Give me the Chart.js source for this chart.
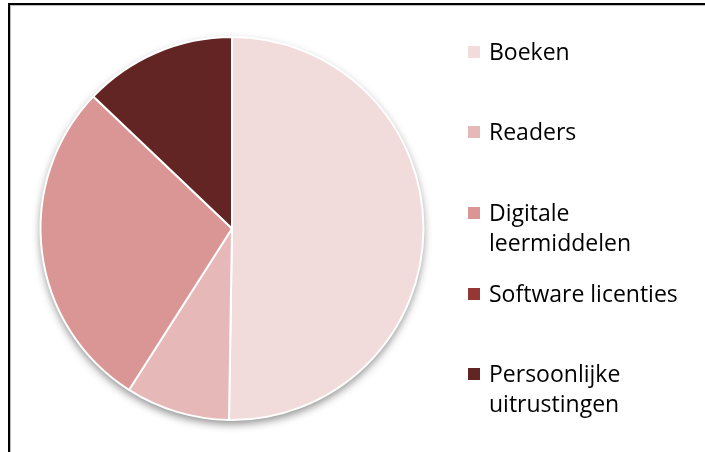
<!DOCTYPE html>
<html>
<head>
<meta charset="utf-8">
<script src="https://cdn.jsdelivr.net/npm/chart.js@4.4.1/dist/chart.umd.min.js"></script>
<style>
  html, body { margin: 0; padding: 0; background: #fff; }
  #wrap { position: relative; width: 705px; height: 452px; overflow: hidden; }
  #frame {
    position: absolute; left: 8px; top: 3px; width: 900px; height: 700px;
    border-top: 2px solid #000; border-left: 2px solid #000;
    box-shadow: 1px 1px 0 #bbb inset;
  }
  #chart { position: absolute; left: 0; top: 0; }
  .legend-item { position: absolute; left: 468px; font-family: "Open Sans", sans-serif; font-size: 23px; line-height: 30px; color: #000; font-variant-ligatures: none; }
  .legend-item .box { position: absolute; left: 0; width: 12px; height: 12px; }
  .legend-item .txt { position: absolute; left: 21px; white-space: nowrap; }
</style>
</head>
<body>
<div id="wrap">
  <div id="frame"></div>
  <canvas id="chart" width="705" height="452"></canvas>
  <div id="legend"></div>
</div>
<script>
// data (percent of the whole)
const categories = ["Boeken", "Readers", "Digitale leermiddelen", "Software licenties", "Persoonlijke uitrustingen"];
const legendLines = [["Boeken"], ["Readers"], ["Digitale", "leermiddelen"], ["Software licenties"], ["Persoonlijke", "uitrustingen"]];
const shares = [50.3, 8.8, 28.1, 0, 12.9];
const colors = ["#F2DCDB", "#E6B9B8", "#D99694", "#953735", "#632523"];
const legendTops = [36, 116, 197, 278, 358];

// soft shadow under the whole pie, like the office style
const pieShadow = {
    id: "pieShadow",
    beforeDatasetsDraw(chart) {
        const arc = chart.getDatasetMeta(0).data[0];
        if (!arc) return;
        const ctx = chart.ctx;
        ctx.save();
        ctx.shadowColor = "rgba(0,0,0,0.45)";
        ctx.shadowBlur = 9;
        ctx.shadowOffsetY = 4;
        ctx.fillStyle = "#fff";
        ctx.beginPath();
        ctx.arc(arc.x, arc.y, arc.outerRadius, 0, Math.PI * 2);
        ctx.fill();
        ctx.restore();
    }
};

new Chart(document.getElementById("chart"), {
    type: "pie",
    data: {
        labels: categories,
        datasets: [{
            data: shares,
            backgroundColor: colors,
            borderColor: "#fff",
            borderWidth: 2,
            hoverOffset: 0,
        }]
    },
    options: {
        responsive: false,
        animation: false,
        layout: { padding: { left: 39, top: 36, right: 280, bottom: 31 } },
        plugins: {
            legend: { display: false },
            tooltip: { enabled: false },
        }
    },
    plugins: [pieShadow]
});

// legend on the right
const legendEl = document.getElementById("legend");
legendLines.forEach((lines, i) => {
    const item = document.createElement("div");
    item.className = "legend-item";
    item.style.top = legendTops[i] + "px";
    const box = document.createElement("div");
    box.className = "box";
    box.style.background = colors[i];
    box.style.top = "10px";
    item.appendChild(box);
    const txt = document.createElement("div");
    txt.className = "txt";
    txt.innerHTML = lines.join("<br>");
    item.appendChild(txt);
    legendEl.appendChild(item);
});
</script>
</body>
</html>
